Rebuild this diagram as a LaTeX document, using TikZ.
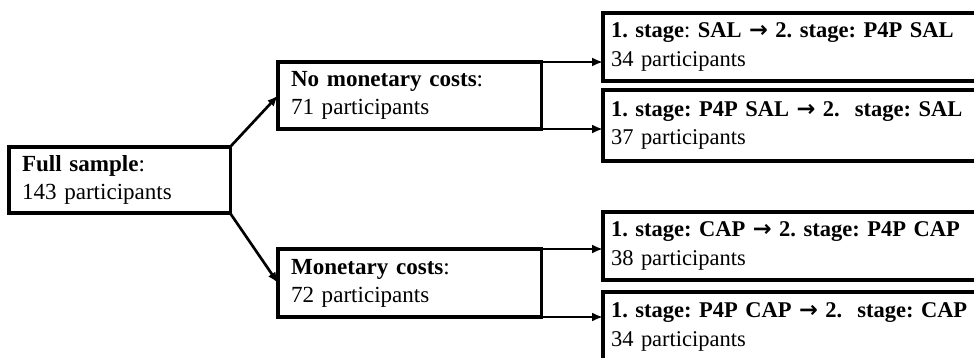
\documentclass[tikz,border=0pt]{standalone}
\usepackage{fontspec}
\setmainfont{Liberation Serif}
\newfontfamily\arrowfont{DejaVu Sans}
\newcommand{\stagearrow}{{\arrowfont\bfseries →}}
\usetikzlibrary{arrows.meta,positioning}
\frenchspacing

\begin{document}
\begin{tikzpicture}[x=0.025cm,y=-0.025cm,
  box/.style={draw,line width=2.2pt,anchor=north west,outer sep=0pt,inner xsep=0.325cm,inner ysep=0pt,align=left,font=\fontsize{16.4}{19.9}\selectfont},
  stagebox/.style={box,inner xsep=0.2cm,text width=10.1cm,font=\fontsize{16}{20.2}\selectfont},
  arr/.style={line width=1.9pt,-{Latex[length=0.27cm,width=0.22cm]}}]
% Canvas
\useasboundingbox (0,0) rectangle (974,357);
\clip (0,0) rectangle (974,357);

% Sample and cost groups
\node[box,text width=4.875cm,minimum height=1.65cm] (full) at (9,147) {\textbf{Full sample}:\\143 participants};
\node[box,text width=5.925cm,minimum height=1.675cm] (nomon) at (278,62) {\textbf{No monetary costs}:\\71 participants};
\node[box,text width=5.925cm,minimum height=1.7cm] (mon) at (278,249) {\textbf{Monetary costs}:\\72 participants};

% Stage orders
\foreach \n/\y/\h/\txt in {
  1/13/1.7/{\textbf{1. stage}: \textbf{SAL \stagearrow{} 2. stage: P4P SAL}\\34 participants},
  2/90/1.775/{\textbf{1. stage: P4P SAL \stagearrow{} 2.\ \ stage: SAL}\\37 participants},
  3/212/1.7/{\textbf{1. stage: CAP \stagearrow{} 2. stage: P4P CAP}\\38 participants},
  4/292/1.75/{\textbf{1. stage: P4P CAP \stagearrow{} 2.\ \ stage: CAP}\\34 participants}
} \node[stagebox,minimum height=\h cm] (s\n) at (603,\y) {\txt};

% Arrows
\draw[arr] (full.north east) -- (nomon.west);
\draw[arr] (full.south east) -- (mon.west);
\draw[arr] (nomon.north east) -- (nomon.north east -| s1.west);
\draw[arr] (nomon.south east) -- (nomon.south east -| s2.west);
\draw[arr] (mon.north east) -- (mon.north east -| s3.west);
\draw[arr] (mon.south east) -- (mon.south east -| s4.west);
\end{tikzpicture}
\end{document}
